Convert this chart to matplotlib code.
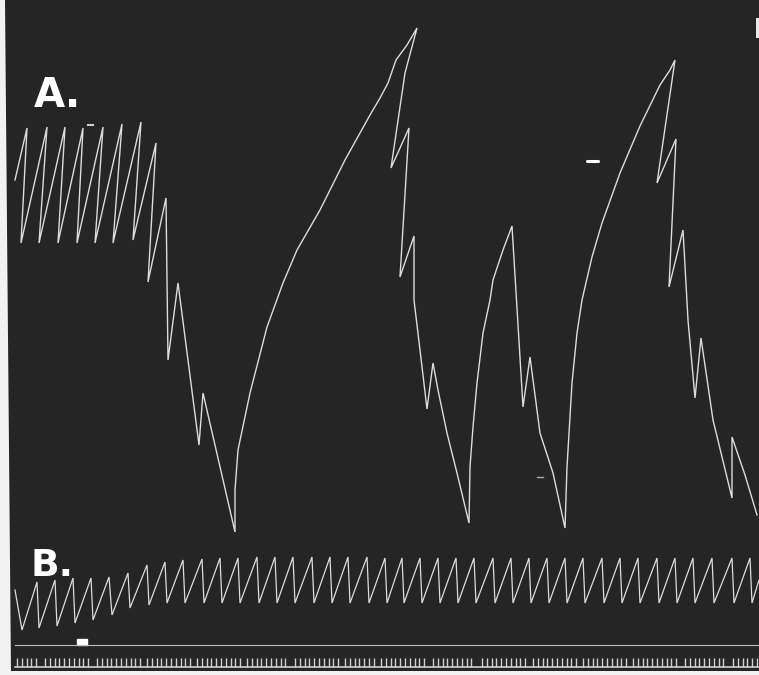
import numpy as np
import matplotlib
matplotlib.use("Agg")
import matplotlib.pyplot as plt
from matplotlib.patches import Rectangle, Polygon

# ---- Trace A (kymograph record, image units: x right, y down) ----
trace_a_x = [15, 27, 21, 47, 39, 65, 58, 83, 77, 103, 95, 122, 113, 141, 133, 156, 148, 166, 168, 178,
             199, 203, 235,
             235, 238, 250, 267, 283, 297, 320, 345, 370, 380, 388, 396, 407, 417,
             405, 391, 409, 400, 414, 414, 420, 427, 433, 438, 447, 457, 469,
             470, 473, 477, 483, 490, 493, 503, 512,
             523, 530, 540, 553, 565,
             567, 572, 577, 582, 592, 602, 620, 640, 660, 670, 675,
             657, 676, 669, 683, 688, 695, 701, 713, 732, 732, 745, 757]
trace_a_y = [180, 128, 243, 127, 243, 127, 243, 128, 243, 127, 243, 124, 243, 122, 240, 143, 282, 198, 360, 283,
             445, 393, 532,
             490, 450, 393, 327, 283, 250, 210, 160, 115, 98, 83, 60, 45, 28,
             73, 168, 128, 277, 236, 300, 350, 409, 363, 390, 433, 473, 523,
             467, 427, 383, 333, 300, 280, 250, 226,
             407, 357, 433, 473, 528,
             467, 383, 333, 300, 257, 223, 173, 126, 85, 70, 60,
             183, 139, 287, 230, 320, 398, 338, 420, 498, 437, 475, 515]

# ---- Trace B (regular beats) ----
b_peak_x = [37, 55, 73, 91, 109, 128, 147, 165, 183, 202, 220, 238, 257, 275, 293, 312, 330, 348, 367, 385,
            402, 420, 438, 456, 474, 493, 511, 529, 547, 565, 583, 602, 620, 638, 657, 675, 693, 712, 732, 750]
b_peak_y = [582, 580, 578, 578, 577, 573, 565, 562, 560, 559, 558, 558, 557, 557, 557, 557, 557, 557, 557, 558,
            558, 558, 558, 558, 558, 558, 558, 558, 558, 558, 558, 558, 558, 558, 558, 558, 558, 558, 558, 558]
b_trough_x = [22, 39, 57, 75, 93, 112, 130, 149, 167, 185, 204, 222, 240, 259, 277, 295, 314, 332, 350, 369,
              387, 404, 422, 440, 458, 476, 495, 513, 531, 549, 567, 585, 604, 622, 640, 659, 677, 695, 714, 734, 752]
b_trough_y = [630, 628, 626, 623, 620, 615, 608, 605, 603, 603, 603, 603, 603, 603, 603, 603, 603, 603, 603, 603,
              603, 603, 603, 603, 603, 603, 603, 603, 603, 603, 603, 603, 603, 603, 603, 603, 603, 603, 603, 603, 603]
b_start = (15, 590)
b_end = (759, 580)

# ---- Time marker groups (start positions of tick groups) ----
tick_group_starts = [17, 45, 97, 147, 197, 247, 295, 345, 381, 433, 482, 533, 583, 633, 685, 733]
tick_spacing = 4.8

labels = ["A.", "B."]

W, H = 759, 675
fig = plt.figure(figsize=(W / 100, H / 100), dpi=100)
ax = fig.add_axes([0, 0, 1, 1])
bg = "#252525"
ax.set_facecolor(bg)
fig.patch.set_facecolor(bg)
ax.set_xlim(0, W)
ax.set_ylim(H, 0)
ax.axis("off")

line_col = "#dcdcdc"

# trace A
ax.plot(trace_a_x, trace_a_y, color=line_col, lw=1.0, solid_joinstyle="miter")

# trace B
bx = [b_start[0]]
by = [b_start[1]]
for i in range(len(b_trough_x)):
    bx.append(b_trough_x[i]); by.append(b_trough_y[i])
    if i < len(b_peak_x):
        bx.append(b_peak_x[i]); by.append(b_peak_y[i])
bx.append(b_end[0]); by.append(b_end[1])
ax.plot(bx, by, color=line_col, lw=0.9, solid_joinstyle="miter")

# signal baseline and marker
ax.plot([15, W], [645, 645], color="#bdbdbd", lw=0.8)
ax.add_patch(Rectangle((77, 639), 10, 6, color="white"))

# time marker
ax.plot([15, W], [667, 667], color="#cfcfcf", lw=1.2)
tx = []
for j, s in enumerate(tick_group_starts):
    e = tick_group_starts[j + 1] - 6 if j + 1 < len(tick_group_starts) else W
    t = s
    while t <= e:
        tx.append(t)
        t += tick_spacing
ax.vlines(tx, 658, 667, color="#d0d0d0", lw=1.0)

# labels
ax.text(34, 107, labels[0], color="white", fontsize=29, fontweight="bold", family="DejaVu Sans",
        ha="left", va="baseline")
ax.text(31, 576, labels[1], color="white", fontsize=27, fontweight="bold", family="DejaVu Sans",
        ha="left", va="baseline")

# small specks
ax.plot([587, 598], [161, 161], color="white", lw=2.2, solid_capstyle="round")
ax.plot([88, 93], [125, 125], color="#cccccc", lw=1.5)
ax.plot([537, 543], [477, 477], color="#aaaaaa", lw=1.0)

# paper edges
ax.add_patch(Polygon([[0, 0], [5, 0], [11, H], [0, H]], closed=True, color="#f2f2f2", lw=0))
ax.add_patch(Rectangle((0, 671), W, 5, color="#f2f2f2", lw=0))
ax.add_patch(Rectangle((756, 18), 4, 20, color="#e8e8e8", lw=0))

fig.savefig("out.png", dpi=100, facecolor=bg)
